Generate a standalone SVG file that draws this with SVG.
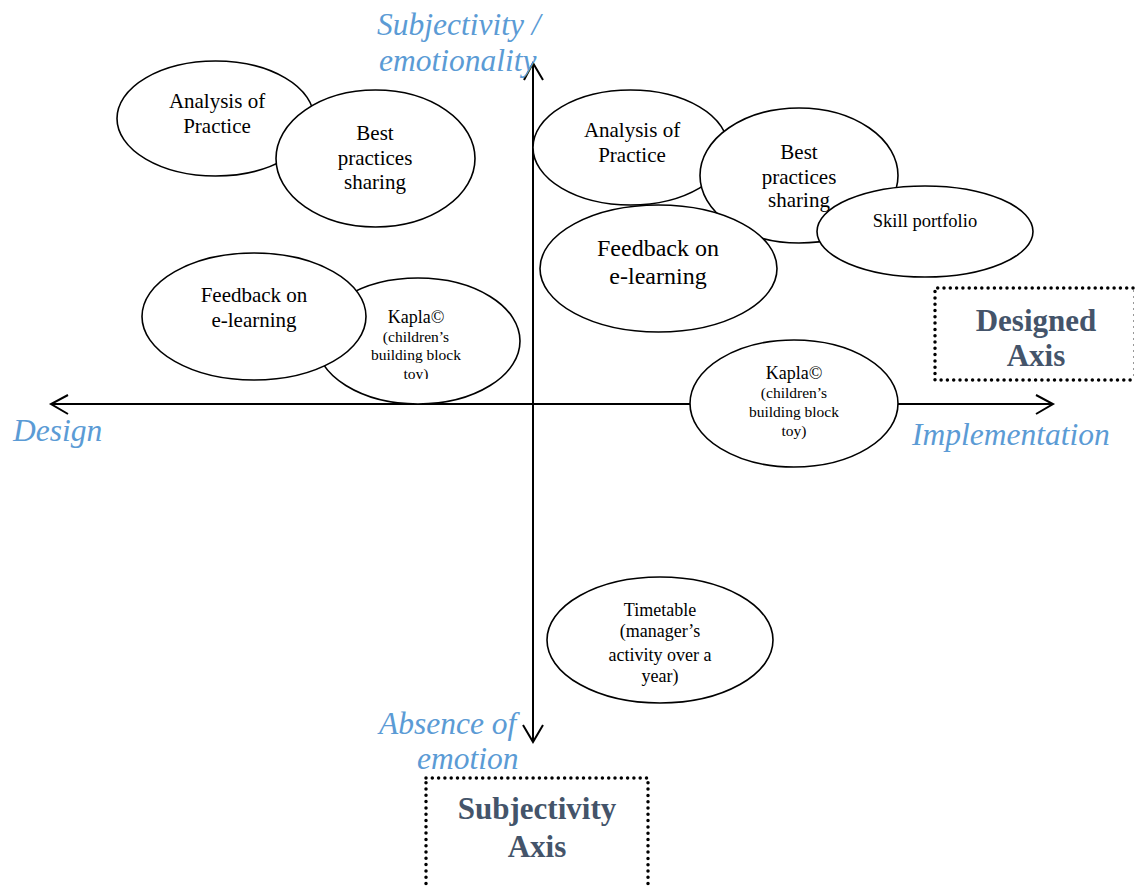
<svg xmlns="http://www.w3.org/2000/svg" width="1136" height="886" viewBox="0 0 1136 886">
<style>
.ax{stroke:#000;stroke-width:2;fill:none}
.el{fill:#fff;stroke:#000;stroke-width:1.6}
.t{font-family:"Liberation Serif","Times New Roman",serif;text-anchor:middle;fill:#000}
.lbl{font-family:"Liberation Serif","Times New Roman",serif;font-style:italic;font-size:31.5px;fill:#5B9BD5}
.bx{fill:none;stroke:#000;stroke-width:3.5;stroke-dasharray:0 6.3;stroke-linecap:round}
.bt{font-family:"Liberation Serif","Times New Roman",serif;font-weight:bold;font-size:31px;fill:#44546A;text-anchor:middle}
</style>
<defs>
<clipPath id="clipToy"><rect x="300" y="270" width="230" height="109"/></clipPath>
</defs>
<rect width="1136" height="886" fill="#fff"/>
<g id="connectors">
<line class="ax" x1="51" y1="404" x2="1053" y2="404"/>
<polyline class="ax" points="68,395 51,404 68,414"/>
<polyline class="ax" points="1036,395 1053,404 1036,414"/>
<line class="ax" x1="533" y1="63" x2="533" y2="742"/>
<polyline class="ax" points="524,80 533,63 543,80"/>
<polyline class="ax" points="523,725 533,742 543,725"/>
</g>
<g id="left-analysis">
<ellipse class="el" cx="215.5" cy="118.5" rx="98.5" ry="57.5"/>
<text class="t" font-size="21" x="217" y="108">Analysis of</text>
<text class="t" font-size="21" x="217" y="133">Practice</text>
</g>
<g id="left-best">
<ellipse class="el" cx="375.5" cy="158.5" rx="99.5" ry="68.5"/>
<text class="t" font-size="21" x="375" y="140">Best</text>
<text class="t" font-size="21" x="375" y="165">practices</text>
<text class="t" font-size="21" x="375" y="189">sharing</text>
</g>
<g id="left-kapla">
<ellipse class="el" cx="418" cy="341" rx="102" ry="63"/>
<g clip-path="url(#clipToy)">
<text class="t" font-size="18" x="416" y="323">Kapla©</text>
<text class="t" font-size="15.5" x="416" y="342">(children’s</text>
<text class="t" font-size="15.5" x="416" y="360">building block</text>
<text class="t" font-size="15.5" x="416" y="379">toy)</text>
</g>
</g>
<g id="left-feedback">
<ellipse class="el" cx="254" cy="316.5" rx="112" ry="63.5"/>
<text class="t" font-size="21" x="254" y="302">Feedback on</text>
<text class="t" font-size="21" x="254" y="327">e-learning</text>
</g>
<g id="right-analysis">
<ellipse class="el" cx="630.5" cy="147.5" rx="97.5" ry="57.5"/>
<text class="t" font-size="21" x="632" y="137">Analysis of</text>
<text class="t" font-size="21" x="632" y="162">Practice</text>
</g>
<g id="right-best">
<ellipse class="el" cx="799" cy="175.5" rx="99" ry="67.5"/>
<text class="t" font-size="21" x="799" y="159">Best</text>
<text class="t" font-size="21" x="799" y="184">practices</text>
<text class="t" font-size="21" x="799" y="207">sharing</text>
</g>
<g id="right-feedback">
<ellipse class="el" cx="658.5" cy="268.5" rx="118.5" ry="63.5"/>
<text class="t" font-size="24" x="658" y="256">Feedback on</text>
<text class="t" font-size="24" x="658" y="284">e-learning</text>
</g>
<g id="skill-portfolio">
<ellipse class="el" cx="925" cy="231.5" rx="108" ry="45.5"/>
<text class="t" font-size="18.5" x="925" y="227">Skill portfolio</text>
</g>
<g id="right-kapla">
<ellipse class="el" cx="794" cy="403.5" rx="104" ry="63.5"/>
<text class="t" font-size="18" x="794" y="379">Kapla©</text>
<text class="t" font-size="15.5" x="794" y="398">(children’s</text>
<text class="t" font-size="15.5" x="794" y="417">building block</text>
<text class="t" font-size="15.5" x="794" y="436">toy)</text>
</g>
<g id="timetable">
<ellipse class="el" cx="660" cy="640" rx="113" ry="63"/>
<text class="t" font-size="18" x="660" y="616">Timetable</text>
<text class="t" font-size="18" x="660" y="637">(manager’s</text>
<text class="t" font-size="18" x="660" y="661">activity over a</text>
<text class="t" font-size="18" x="660" y="682">year)</text>
</g>
<g id="axis-labels">
<text class="lbl" x="377" y="35">Subjectivity /</text>
<text class="lbl" x="379" y="71">emotionality</text>
<text class="lbl" x="13" y="441">Design</text>
<text class="lbl" x="912" y="445">Implementation</text>
<text class="lbl" x="379" y="734">Absence of</text>
<text class="lbl" x="417" y="769">emotion</text>
</g>
<g id="designed-axis">
<polyline class="bx" points="1133,288 935,288 935,380 1133,380"/>
<line x1="1133.5" y1="290" x2="1133.5" y2="378" stroke="#999" stroke-width="1" stroke-dasharray="2 4"/>
<text class="bt" x="1036" y="331">Designed</text>
<text class="bt" x="1036" y="366">Axis</text>
</g>
<g id="subjectivity-axis">
<rect class="bx" x="426" y="778" width="222" height="130"/>
<text class="bt" x="537" y="819">Subjectivity</text>
<text class="bt" x="537" y="857">Axis</text>
</g>
</svg>
